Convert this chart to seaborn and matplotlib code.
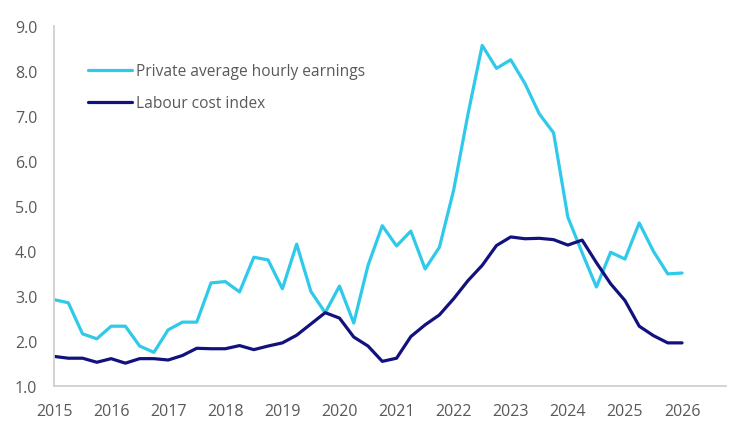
import numpy as np
import pandas as pd
import matplotlib
matplotlib.use("Agg")
import matplotlib.pyplot as plt
import seaborn as sns

sns.set_style("white")
plt.rcParams['font.family'] = ['Open Sans', 'DejaVu Sans']

# quarterly, 2015 Q1 .. 2026 Q1
private_earnings = [2.92, 2.85, 2.16, 2.05, 2.33, 2.33, 1.89, 1.75, 2.25, 2.42,
                    2.42, 3.29, 3.32, 3.09, 3.86, 3.80, 3.16, 4.15, 3.10, 2.63,
                    3.22, 2.40, 3.68, 4.56, 4.11, 4.44, 3.60, 4.08, 5.35, 7.03,
                    8.56, 8.05, 8.24, 7.71, 7.04, 6.62, 4.75, 3.96, 3.20, 3.97,
                    3.82, 4.62, 3.99, 3.49, 3.51]
labour_cost = [1.66, 1.62, 1.62, 1.53, 1.61, 1.51, 1.61, 1.61, 1.58, 1.68,
               1.84, 1.83, 1.83, 1.90, 1.81, 1.89, 1.96, 2.13, 2.38, 2.63,
               2.51, 2.09, 1.89, 1.55, 1.62, 2.10, 2.36, 2.58, 2.94, 3.34,
               3.68, 4.12, 4.31, 4.27, 4.28, 4.25, 4.13, 4.24, 3.74, 3.27,
               2.90, 2.33, 2.12, 1.96, 1.96]
series_names = ["Private average hourly earnings", "Labour cost index"]
year_ticks = list(range(2015, 2027))

quarters = 2015 + np.arange(len(private_earnings)) / 4
df = pd.DataFrame({
    "date": np.concatenate([quarters, quarters]),
    "value": private_earnings + labour_cost,
    "series": [series_names[0]] * len(quarters) + [series_names[1]] * len(quarters),
})

fig = plt.figure(figsize=(7.5, 4.35), dpi=100)
ax = fig.add_axes([0.072, 0.11, 0.896, 0.829])

sns.lineplot(data=df, x="date", y="value", hue="series",
             palette=["#2fcaea", "#12127e"], linewidth=2.3, ax=ax)

grey = "#595959"
ax.set_xlim(2015, 2026.77)
ax.set_ylim(1, 9)
ax.set_xticks(year_ticks)
ax.set_yticks(np.arange(1, 9.5, 1))
ax.set_yticklabels([f"{v:.1f}" for v in np.arange(1, 9.5, 1)])
ax.set_xlabel("")
ax.set_ylabel("")
for s in ["top", "right"]:
    ax.spines[s].set_visible(False)
for s in ["left", "bottom"]:
    ax.spines[s].set_color("#d0d0d0")
    ax.spines[s].set_linewidth(1.3)
ax.tick_params(axis="both", colors="#d0d0d0", labelcolor=grey, labelsize=11.5,
               length=4, width=1.2, direction="out")
ax.tick_params(axis="x", pad=8)
ax.tick_params(axis="y", pad=8)

ax.legend(frameon=False, loc="upper left", bbox_to_anchor=(0.03, 0.935),
          fontsize=11.2, handlelength=2.8, labelspacing=1.05, handletextpad=0.3,
          labelcolor=grey)

fig.savefig("out.png", dpi=100)
